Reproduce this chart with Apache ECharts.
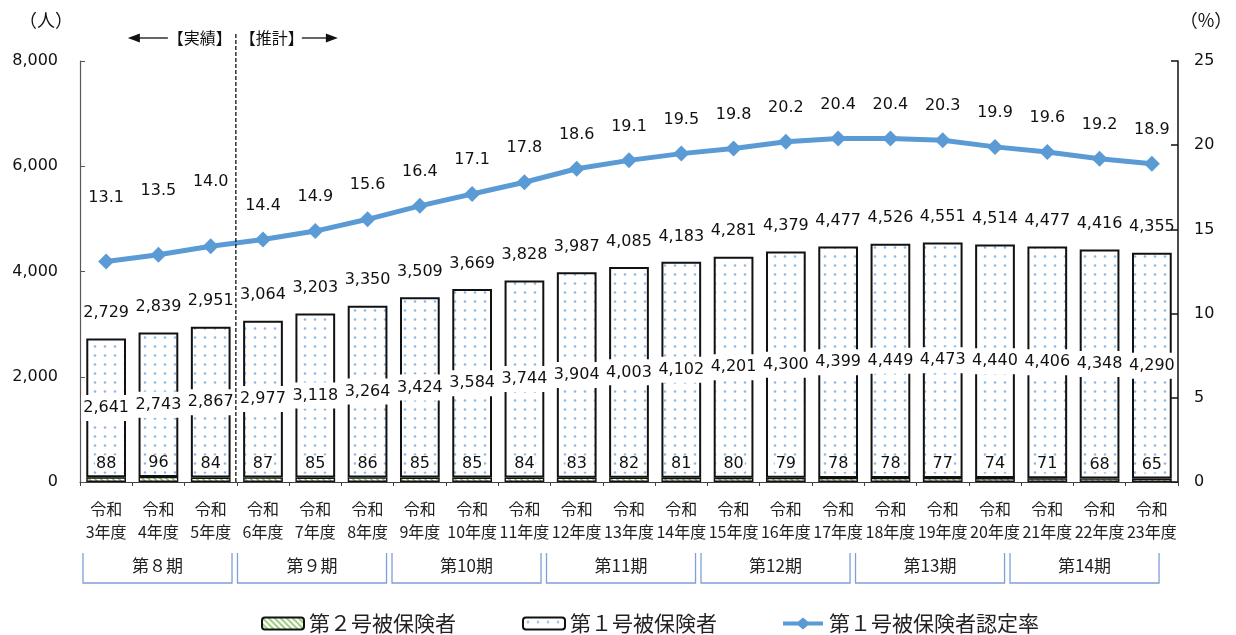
<!DOCTYPE html>
<html>
<head>
<meta charset="utf-8">
<script src="https://cdn.jsdelivr.net/npm/echarts@6/dist/echarts.min.js"></script>
<style>
  html, body { margin: 0; padding: 0; background: #fff; }
  #main { width: 1236px; height: 635px; }
</style>
</head>
<body>
<div id="main"></div>
<script>
// 令和3年度〜23年度の被保険者数（人）と第１号被保険者の認定率（%）
const categories = [
  '令和\n3年度', '令和\n4年度', '令和\n5年度', '令和\n6年度', '令和\n7年度', '令和\n8年度',
  '令和\n9年度', '令和\n10年度', '令和\n11年度', '令和\n12年度', '令和\n13年度', '令和\n14年度',
  '令和\n15年度', '令和\n16年度', '令和\n17年度', '令和\n18年度', '令和\n19年度', '令和\n20年度',
  '令和\n21年度', '令和\n22年度', '令和\n23年度'
];
const periods = ['第８期', '第９期', '第10期', '第11期', '第12期', '第13期', '第14期'];
const insured2 = [88, 96, 84, 87, 85, 86, 85, 85, 84, 83, 82, 81, 80, 79, 78, 78, 77, 74, 71, 68, 65];
const insured1 = [2641, 2743, 2867, 2977, 3118, 3264, 3424, 3584, 3744, 3904, 4003, 4102, 4201, 4300,
  4399, 4449, 4473, 4440, 4406, 4348, 4290];
const totals = [2729, 2839, 2951, 3064, 3203, 3350, 3509, 3669, 3828, 3987, 4085, 4183, 4281, 4379,
  4477, 4526, 4551, 4514, 4477, 4416, 4355];
const rate = [13.1, 13.5, 14.0, 14.4, 14.9, 15.6, 16.4, 17.1, 17.8, 18.6, 19.1, 19.5, 19.8, 20.2,
  20.4, 20.4, 20.3, 19.9, 19.6, 19.2, 18.9];

const FONT = '"Noto Sans CJK JP", "Noto Sans", sans-serif';
const NUM_FONT = '"DejaVu Sans", "Noto Sans CJK JP", sans-serif';

// 塗りパターン：点描（第１号）と斜線（第２号）
function dotTile() {
  const c = document.createElement('canvas');
  c.width = 10; c.height = 9;
  const g = c.getContext('2d');
  g.fillStyle = '#ffffff'; g.fillRect(0, 0, 10, 9);
  g.fillStyle = '#8DB8E4';
  g.beginPath(); g.arc(5, 4.5, 1.3, 0, Math.PI * 2); g.fill();
  return c;
}
function hatchTile() {
  const c = document.createElement('canvas');
  c.width = 6; c.height = 6;
  const g = c.getContext('2d');
  g.fillStyle = '#ffffff'; g.fillRect(0, 0, 6, 6);
  g.strokeStyle = '#8CC46A'; g.lineWidth = 1.6;
  g.beginPath();
  g.moveTo(-1, -1); g.lineTo(7, 7);
  g.moveTo(-4, 2); g.lineTo(2, 8);
  g.moveTo(2, -4); g.lineTo(8, 2);
  g.stroke();
  return c;
}
const dotFill = { image: dotTile(), repeat: 'repeat' };
const hatchFill = { image: hatchTile(), repeat: 'repeat' };

// 凡例用：太線とひし形マーカー
const lineLegendIcon = 'path://M0,4 L19,4 L25,-1 L31,4 L50,4 L50,9 L31,9 L25,14 L19,9 L0,9 Z';

const fmt = v => Number(v).toLocaleString('en-US');

const chart = echarts.init(document.getElementById('main'), null, { renderer: 'canvas' });

const option = {
  animation: false,
  textStyle: { fontFamily: FONT },
  grid: { left: 80, right: 58, top: 61, bottom: 153 },
  legend: {
    left: 256, top: 608,
    itemWidth: 42, itemHeight: 12, itemGap: 66,
    textStyle: { fontSize: 21, color: '#222', fontFamily: FONT },
    data: [
      { name: '第２号被保険者' },
      { name: '第１号被保険者' },
      { name: '第１号被保険者認定率', icon: lineLegendIcon, itemStyle: { color: '#5B9BD5' } }
    ]
  },
  xAxis: {
    type: 'category',
    data: categories,
    axisLine: { lineStyle: { color: '#404040', width: 1.2 } },
    axisTick: { show: true, length: 4, lineStyle: { color: '#404040' } },
    axisLabel: { fontSize: 16, color: '#222', lineHeight: 23, margin: 15, interval: 0, fontFamily: FONT }
  },
  yAxis: [
    {
      type: 'value', min: 0, max: 8000, interval: 2000,
      axisLine: { show: true, lineStyle: { color: '#595959', width: 1.2 } },
      axisTick: { show: true, inside: true, length: 5, lineStyle: { color: '#595959' } },
      splitLine: { show: false },
      axisLabel: { fontSize: 16, color: '#111', margin: 22, formatter: fmt, fontFamily: NUM_FONT }
    },
    {
      type: 'value', min: 0, max: 25, interval: 5,
      axisLine: { show: true, lineStyle: { color: '#111', width: 1.5 } },
      axisTick: { show: true, inside: true, length: 7, lineStyle: { color: '#111', width: 1.5 } },
      splitLine: { show: false },
      axisLabel: { fontSize: 16, color: '#111', margin: 16, fontFamily: NUM_FONT }
    }
  ],
  series: [
    {
      name: '第２号被保険者', type: 'bar', stack: 'ins', barWidth: '76%',
      data: insured2,
      itemStyle: { color: hatchFill, borderColor: '#111', borderWidth: 1.4 },
      label: {
        show: true, position: 'top', distance: 6, fontSize: 16, color: '#111',
        backgroundColor: '#fff', padding: [0, 1], fontFamily: NUM_FONT
      }
    },
    {
      name: '第１号被保険者', type: 'bar', stack: 'ins', barWidth: '76%',
      data: insured1,
      itemStyle: { color: dotFill, borderColor: '#111', borderWidth: 2 },
      label: {
        show: true, position: 'inside', fontSize: 16, color: '#111', formatter: p => fmt(p.value),
        backgroundColor: '#fff', padding: [5, 2], fontFamily: NUM_FONT
      }
    },
    {
      // 合計値のラベル
      name: '合計', type: 'line', data: totals,
      symbol: 'circle', symbolSize: 1, showSymbol: true,
      itemStyle: { color: 'transparent' },
      lineStyle: { width: 0, opacity: 0 }, silent: true,
      label: {
        show: true, position: 'top', distance: 17, fontSize: 16, color: '#111',
        formatter: p => fmt(p.value), fontFamily: NUM_FONT
      },
      z: 5
    },
    {
      name: '第１号被保険者認定率', type: 'line', yAxisIndex: 1,
      data: rate.map((v, i) => i < 3 ? { value: v, label: { distance: 48 } } : v),
      symbol: 'diamond', symbolSize: 16,
      lineStyle: { color: '#5B9BD5', width: 5 },
      itemStyle: { color: '#5B9BD5' },
      label: {
        show: true, position: 'top', distance: 18, fontSize: 16, color: '#111',
        formatter: p => Number(p.value).toFixed(1), fontFamily: NUM_FONT
      },
      z: 6
    }
  ]
};
chart.setOption(option);

// 実績/推計の区切り線、単位、期間の枠
function drawOverlay() {
  const px = i => chart.convertToPixel({ xAxisIndex: 0 }, i);
  const base = chart.convertToPixel({ yAxisIndex: 0 }, 0);
  const band = px(1) - px(0);
  const divX = (px(2) + px(3)) / 2 - 1;
  const elements = [];

  elements.push({
    type: 'line', shape: { x1: divX, y1: 34, x2: divX, y2: base },
    style: { stroke: '#111', lineWidth: 1.3, lineDash: [4, 2] }, z: 10
  });
  // 【実績】←
  elements.push({
    type: 'text', x: divX - 4, y: 38,
    style: { text: '【実績】', fontSize: 16, fontFamily: FONT, fill: '#111', align: 'right', verticalAlign: 'middle' }
  });
  elements.push({
    type: 'line', shape: { x1: divX - 68, y1: 38, x2: divX - 98, y2: 38 },
    style: { stroke: '#111', lineWidth: 1.3 }
  });
  elements.push({
    type: 'polygon', shape: { points: [[divX - 108, 38], [divX - 96, 33.5], [divX - 96, 42.5]] },
    style: { fill: '#111' }
  });
  // 【推計】→
  elements.push({
    type: 'text', x: divX + 4, y: 38,
    style: { text: '【推計】', fontSize: 16, fontFamily: FONT, fill: '#111', align: 'left', verticalAlign: 'middle' }
  });
  elements.push({
    type: 'line', shape: { x1: divX + 66, y1: 38, x2: divX + 92, y2: 38 },
    style: { stroke: '#111', lineWidth: 1.3 }
  });
  elements.push({
    type: 'polygon', shape: { points: [[divX + 102, 38], [divX + 90, 33.5], [divX + 90, 42.5]] },
    style: { fill: '#111' }
  });
  // 単位
  elements.push({
    type: 'text', x: 46, y: 20,
    style: { text: '（人）', fontSize: 18, fontFamily: FONT, fill: '#111', align: 'center', verticalAlign: 'middle' }
  });
  elements.push({
    type: 'text', x: 1206, y: 20,
    style: { text: '（%）', fontSize: 18, fontFamily: FONT, fill: '#111', align: 'center', verticalAlign: 'middle' }
  });
  // 期間の枠（上辺なし）
  const pitch = band * 2.955;
  const w = band * 2.85;
  const x0 = px(0) - band / 2 + 3;
  const top = 553, bottom = 583;
  periods.forEach((name, k) => {
    const l = x0 + k * pitch, r = l + w;
    elements.push({
      type: 'polyline', shape: { points: [[l, top], [l, bottom], [r, bottom], [r, top]] },
      style: { stroke: '#7F9FD8', lineWidth: 1.3, fill: null }
    });
    elements.push({
      type: 'text', x: (l + r) / 2, y: 566,
      style: { text: name, fontSize: 17, fontFamily: FONT, fill: '#222', align: 'center', verticalAlign: 'middle' }
    });
  });
  chart.setOption({ graphic: { elements } });
}
drawOverlay();
</script>
</body>
</html>
